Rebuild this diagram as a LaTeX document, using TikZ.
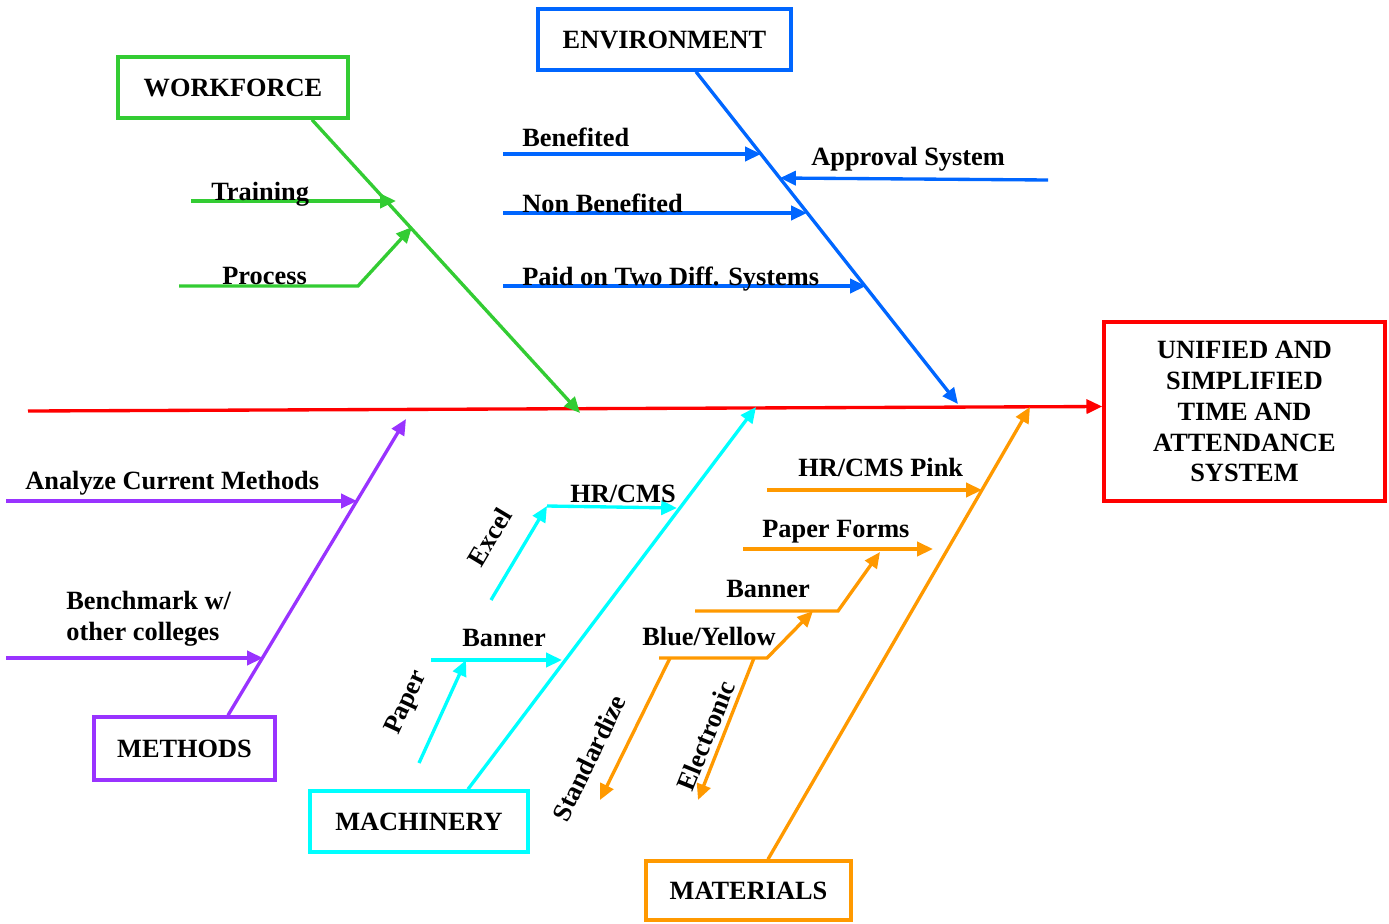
\documentclass[tikz,border=0pt]{standalone}
\usepackage{fontspec}
\setmainfont{Liberation Serif}
\usetikzlibrary{arrows.meta,calc}
\definecolor{wfgreen}{RGB}{51,204,51}
\definecolor{envblue}{RGB}{0,102,255}
\definecolor{methpurple}{RGB}{153,51,255}
\definecolor{machcyan}{RGB}{0,255,255}
\definecolor{matorange}{RGB}{255,153,0}
\definecolor{goalred}{RGB}{255,0,0}
\begin{document}
\begin{tikzpicture}[x=0.02cm, y=-0.02cm,
    every node/.style={font=\fontsize{15}{17.6}\selectfont\bfseries},
    catbox/.style={draw, line width=2pt, minimum height=1.22cm, inner sep=0pt},
    bone/.style={line width=1.9pt, -{Triangle[length=9pt,width=8pt]}},
    twig/.style={line width=1.9pt, -{Triangle[length=9pt,width=8pt]}},
    lbl/.style={anchor=base west, inner sep=0pt}]
    \useasboundingbox (0,0) rectangle (1389,923);

    % Define the head and the category boxes
    \node[catbox, draw=goalred, minimum width=5.62cm, minimum height=3.58cm, align=center] (goal) at (1244.5,411.5) {UNIFIED AND\\SIMPLIFIED\\TIME AND\\ATTENDANCE\\SYSTEM};
    \node[catbox, draw=wfgreen, minimum width=4.6cm] (wf) at (233,87.5) {WORKFORCE};
    \node[catbox, draw=envblue, minimum width=5.06cm] (env) at (664.5,39.5) {ENVIRONMENT};
    \node[catbox, draw=methpurple, minimum width=3.62cm, minimum height=1.26cm] (meth) at (184.5,748.5) {METHODS};
    \node[catbox, draw=machcyan, minimum width=4.36cm] (mach) at (419,821.5) {MACHINERY};
    \node[catbox, draw=matorange, minimum width=4.1cm, minimum height=1.18cm] (mat) at (748.5,890.5) {MATERIALS};

    % Spine and bone tips
    \coordinate (tail) at (28,411);
    \coordinate (wftip) at (580,413);
    \coordinate (envtip) at (958,404);
    \coordinate (methtip) at (406,419);
    \coordinate (machtip) at (756,407);
    \coordinate (mattip) at (1030,407);
    \draw[bone, goalred] (tail) -- ($(goal.west)+(0,-5)$);

    % Draw the bones from the boxes to the spine
    \draw[bone, wfgreen] ($(wf.south)+(79,0)$) -- (wftip);
    \draw[bone, envblue] ($(env.south)+(31.5,0)$) -- (envtip);
    \draw[bone, methpurple] ($(meth.north)+(43.5,0)$) -- (methtip);
    \draw[bone, machcyan] ($(mach.north)+(49,0)$) -- (machtip);
    \draw[bone, matorange] ($(mat.north)+(19.5,0)$) -- (mattip);

    % Workforce causes
    \coordinate (train0) at (191,201);
    \coordinate (train1) at (396,201);
    \coordinate (proc0) at (179,286);
    \coordinate (proc1) at (358,286);
    \coordinate (proc2) at (412,227);
    \draw[twig, wfgreen] (train0) -- (train1);
    \draw[twig, wfgreen] (proc0) -- (proc1) -- (proc2);
    \node[lbl] (trainlbl) at (211,200) {Training};
    \node[lbl] (proclbl) at (222,284) {Process};

    % Environment causes
    \coordinate (ben0) at (503,154);
    \coordinate (ben1) at (761,154);
    \coordinate (nonben0) at (503,213);
    \coordinate (nonben1) at (807,213);
    \coordinate (paid0) at (503,286);
    \coordinate (paid1) at (866,286);
    \coordinate (appr0) at (1048,180);
    \coordinate (appr1) at (780,178);
    \draw[twig, envblue] (ben0) -- (ben1);
    \draw[twig, envblue] (nonben0) -- (nonben1);
    \draw[twig, envblue] (paid0) -- (paid1);
    \draw[twig, envblue] (appr0) -- (appr1);
    \node[lbl] (benlbl) at (522,146) {Benefited};
    \node[lbl] (nonbenlbl) at (522,212) {Non Benefited};
    \node[lbl] (paidlbl) at (522,285) {Paid on Two Diff. Systems};
    \node[lbl] (apprlbl) at (811,165) {Approval System};

    % Methods causes
    \coordinate (anal0) at (6,501);
    \coordinate (anal1) at (357,501);
    \coordinate (bench0) at (6,658);
    \coordinate (bench1) at (263,658);
    \draw[twig, methpurple] (anal0) -- (anal1);
    \draw[twig, methpurple] (bench0) -- (bench1);
    \node[lbl] (anallbl) at (25,489) {Analyze Current Methods};
    \node[lbl, align=left] (benchlbl) at (66,640) {Benchmark w/\\other colleges};

    % Machinery causes
    \coordinate (ban0) at (431,660);
    \coordinate (ban1) at (562,660);
    \coordinate (paper0) at (419,763);
    \coordinate (paper1) at (466,660);
    \coordinate (hr0) at (547,506);
    \coordinate (hr1) at (677,508);
    \coordinate (excel0) at (491,600);
    \coordinate (excel1) at (547,506);
    \draw[twig, machcyan] (ban0) -- (ban1);
    \draw[twig, machcyan] (paper0) -- (paper1);
    \draw[twig, machcyan] (hr0) -- (hr1);
    \draw[twig, machcyan] (excel0) -- (excel1);
    \node[lbl] (banlbl) at (462,646) {Banner};
    \node[lbl] (hrlbl) at (570,502) {HR/CMS};
    \node[rotate=65] (paperlbl) at (407,703) {Paper};
    \node[rotate=59] (excellbl) at (490,537) {Excel};

    % Materials causes
    \coordinate (pink0) at (767,490);
    \coordinate (pink1) at (982,490);
    \coordinate (forms0) at (743,549);
    \coordinate (forms1) at (933,549);
    \coordinate (mban0) at (695,611);
    \coordinate (mban1) at (838,611);
    \coordinate (mban2) at (880,552);
    \coordinate (blue0) at (659,658);
    \coordinate (blue1) at (767,658);
    \coordinate (blue2) at (813,611);
    \coordinate (std0) at (670,658);
    \coordinate (std1) at (600,800);
    \coordinate (elec0) at (754,658);
    \coordinate (elec1) at (698,800);
    \draw[twig, matorange] (pink0) -- (pink1);
    \draw[twig, matorange] (forms0) -- (forms1);
    \draw[twig, matorange] (mban0) -- (mban1) -- (mban2);
    \draw[twig, matorange] (blue0) -- (blue1) -- (blue2);
    \draw[twig, matorange] (std0) -- (std1);
    \draw[twig, matorange] (elec0) -- (elec1);
    \node[lbl] (pinklbl) at (798,476) {HR/CMS Pink};
    \node[lbl] (formslbl) at (762,537) {Paper Forms};
    \node[lbl] (mbanlbl) at (726,597) {Banner};
    \node[lbl] (bluelbl) at (642,645) {Blue/Yellow};
    \node[rotate=64] (stdlbl) at (589,758) {Standardize};
    \node[rotate=68] (eleclbl) at (706,736) {Electronic};
\end{tikzpicture}
\end{document}
